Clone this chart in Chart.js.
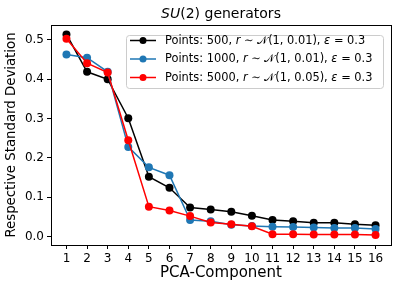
<!DOCTYPE html>
<html>
<head>
<meta charset="utf-8">
<script src="https://cdn.jsdelivr.net/npm/chart.js@4"></script>
<style>
  html, body { margin: 0; padding: 0; background: #fff; }
</style>
</head>
<body>
<canvas id="myChart" width="399" height="290"></canvas>
<script>
const components = [1, 2, 3, 4, 5, 6, 7, 8, 9, 10, 11, 12, 13, 14, 15, 16];
const yTicks = [0.0, 0.1, 0.2, 0.3, 0.4, 0.5];

const points500 = [0.514, 0.419, 0.400, 0.301, 0.152, 0.124, 0.074, 0.069, 0.063, 0.053, 0.042, 0.039, 0.035, 0.035, 0.031, 0.029];
const points1000 = [0.463, 0.455, 0.419, 0.228, 0.176, 0.156, 0.042, 0.039, 0.030, 0.027, 0.025, 0.024, 0.023, 0.022, 0.022, 0.019];
const points5000 = [0.503, 0.441, 0.417, 0.245, 0.076, 0.066, 0.052, 0.036, 0.031, 0.026, 0.006, 0.006, 0.005, 0.005, 0.005, 0.004];

const seriesLabels = [
  'Points: 500, r ∼ 𝒩(1, 0.01), ε = 0.3',
  'Points: 1000, r ∼ 𝒩(1, 0.01), ε = 0.3',
  'Points: 5000, r ∼ 𝒩(1, 0.05), ε = 0.3'
];
const seriesColors = ['#000000', '#1f77b4', '#ff0000'];
const titleText = 'SU(2) generators';

const FONT = '"DejaVu Sans", sans-serif';

function makeSet(i, values) {
  return {
    label: seriesLabels[i],
    data: components.map((c, k) => ({ x: c, y: values[k] })),
    borderColor: seriesColors[i],
    backgroundColor: seriesColors[i],
    borderWidth: 1.5,
    pointRadius: 4,
    pointBorderWidth: 0,
    pointHoverRadius: 4,
    tension: 0,
    order: 2 - i
  };
}

// draw text where some words are italic
function drawRich(ctx, text, x, y, size, italicRe) {
  const parts = text.split(italicRe);
  parts.forEach(p => {
    if (!p) return;
    const it = italicRe.test(p);
    italicRe.lastIndex = 0;
    ctx.font = (it ? 'oblique ' : '') + size + 'px ' + FONT;
    ctx.fillText(p, x, y);
    x += ctx.measureText(p).width;
  });
  return x;
}

const decorPlugin = {
  id: 'decor',
  afterDraw(chart) {
    const ctx = chart.ctx;
    const a = chart.chartArea;
    ctx.save();
    // frame
    ctx.strokeStyle = '#000';
    ctx.lineWidth = 1;
    ctx.strokeRect(Math.round(a.left) + 0.5, Math.round(a.top) + 0.5, Math.round(a.right - a.left), Math.round(a.bottom - a.top));

    // title
    ctx.fillStyle = '#000';
    ctx.textBaseline = 'alphabetic';
    let w = 0;
    titleText.split(/(SU)/).forEach(p => {
      if (!p) return;
      ctx.font = (p === 'SU' ? 'oblique ' : '') + '14px ' + FONT;
      w += ctx.measureText(p).width;
    });
    const cx = (a.left + a.right) / 2;
    drawRich(ctx, titleText, cx - w / 2, 18, 14, /(SU)/);

    // legend
    const bx = 126, by = 35, bw = 257, bh = 53;
    ctx.fillStyle = 'rgba(255,255,255,0.8)';
    ctx.strokeStyle = '#cccccc';
    ctx.lineWidth = 1;
    ctx.beginPath();
    ctx.roundRect(bx + 0.5, by + 0.5, bw, bh, 3);
    ctx.fill();
    ctx.stroke();
    const rows = [40.5, 59, 77.5];
    chart.data.datasets.forEach((ds, i) => {
      const y = rows[i];
      ctx.strokeStyle = ds.borderColor;
      ctx.lineWidth = 1.5;
      ctx.beginPath();
      ctx.moveTo(130, y);
      ctx.lineTo(156, y);
      ctx.stroke();
      ctx.fillStyle = ds.borderColor;
      ctx.beginPath();
      ctx.arc(143, y, 3.5, 0, Math.PI * 2);
      ctx.fill();
      ctx.fillStyle = '#000';
      ctx.textBaseline = 'middle';
      drawRich(ctx, ds.label, 165, y + 0.5, 11.4, /(\br\b|ε)/g);
    });
    ctx.restore();
  }
};

const data = {
  datasets: [
    makeSet(0, points500),
    makeSet(1, points1000),
    makeSet(2, points5000)
  ]
};

const config = {
  type: 'line',
  data: data,
  options: {
    responsive: false,
    animation: false,
    layout: { padding: { top: 25, right: 8, left: 0, bottom: 0 } },
    plugins: {
      legend: { display: false },
      title: { display: false },
      tooltip: { enabled: false }
    },
    scales: {
      x: {
        type: 'linear',
        min: 0.25,
        max: 16.75,
        afterFit: s => { s.height = 45; },
        afterBuildTicks: s => { s.ticks = components.map(v => ({ value: v })); },
        grid: { display: true, drawOnChartArea: false, drawTicks: true, tickLength: 4, color: '#000' },
        border: { display: true, color: '#000' },
        ticks: { color: '#000', font: { family: FONT, size: 12 }, padding: 3, maxRotation: 0, autoSkip: false },
        title: { display: true, text: 'PCA-Component', color: '#000', font: { family: FONT, size: 15 }, padding: { top: 0, bottom: 8 } }
      },
      y: {
        min: -0.0215,
        max: 0.538,
        afterFit: s => { s.width = 51; },
        afterBuildTicks: s => { s.ticks = yTicks.map(v => ({ value: v })); },
        grid: { display: true, drawOnChartArea: false, drawTicks: true, tickLength: 4, color: '#000' },
        border: { display: true, color: '#000' },
        ticks: { color: '#000', font: { family: FONT, size: 12 }, padding: 3, callback: v => v.toFixed(1) },
        title: { display: true, text: 'Respective Standard Deviation', color: '#000', font: { family: FONT, size: 13.3 }, padding: { top: 4, bottom: 4 } }
      }
    }
  },
  plugins: [decorPlugin]
};

const myChart = new Chart(document.getElementById('myChart'), config);
</script>
</body>
</html>
